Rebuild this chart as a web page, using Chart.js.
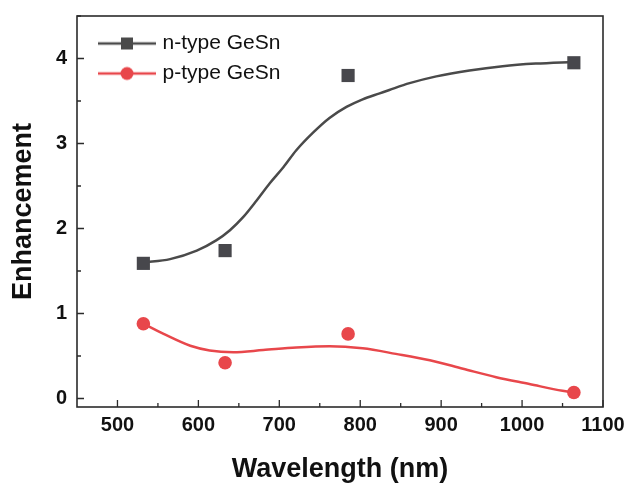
<!DOCTYPE html>
<html>
<head>
<meta charset="utf-8">
<script src="https://cdn.jsdelivr.net/npm/chart.js@4.4.1/dist/chart.umd.min.js"></script>
<style>
  html, body { margin: 0; padding: 0; background: #fff; }
  #wrap { width: 630px; height: 484px; }
</style>
</head>
<body>
<div id="wrap"><canvas id="chart"></canvas></div>
<script>
// measured points
const wavelengths = [532, 633, 785, 1064];
const nTypeValues = [1.59, 1.74, 3.80, 3.95];
const pTypeValues = [0.88, 0.42, 0.76, 0.07];

// fitted curves
const nFitX = [532, 565, 598, 622, 639, 655, 672, 688, 705, 721, 742, 762, 783, 803, 824, 836, 861, 894, 935, 976, 1017, 1064];
const nFitY = [1.60, 1.64, 1.74, 1.86, 1.98, 2.13, 2.33, 2.53, 2.72, 2.92, 3.13, 3.30, 3.43, 3.52, 3.59, 3.63, 3.71, 3.79, 3.86, 3.91, 3.94, 3.96];
const pFitX = [532, 557, 590, 614, 643, 680, 721, 762, 803, 844, 886, 927, 968, 1009, 1050, 1064];
const pFitY = [0.88, 0.76, 0.62, 0.565, 0.545, 0.57, 0.60, 0.615, 0.59, 0.525, 0.45, 0.35, 0.25, 0.17, 0.09, 0.07];

// axis ticks
const xTickValues = [500, 600, 700, 800, 900, 1000, 1100];
const yTickValues = [0, 1, 2, 3, 4];

const nColor = '#47474c';
const pColor = '#e8474b';

const toPoints = (xs, ys) => xs.map((x, i) => ({ x: x, y: ys[i] }));
const midpoints = vals => vals.slice(0, -1).map((v, i) => (v + vals[i + 1]) / 2);

// legend symbol: line with the marker in the middle
function legendSymbol(color, shape) {
    const c = document.createElement('canvas');
    c.width = 60; c.height = 16;
    const g = c.getContext('2d');
    g.strokeStyle = color; g.lineWidth = 2.5;
    g.beginPath(); g.moveTo(1, 8); g.lineTo(59, 8); g.stroke();
    g.fillStyle = color;
    if (shape === 'rect') {
        g.fillRect(24, 2, 12, 12);
    } else {
        g.beginPath(); g.arc(30, 8, 6.5, 0, Math.PI * 2); g.fill();
    }
    return c;
}

// frame + inward ticks, and legend placed inside the plot
const frameTicks = {
    id: 'frameTicks',
    afterLayout(chart) {
        const a = chart.chartArea;
        if (chart.legend) {
            chart.legend.left = a.left + 16;
            chart.legend.top = a.top + 8;
        }
    },
    afterDatasetsDraw(chart) {
        const { ctx, chartArea: a, scales: { x, y } } = chart;
        ctx.save();
        ctx.strokeStyle = '#2b2b2b';
        ctx.lineWidth = 1.6;
        ctx.strokeRect(a.left, a.top, a.right - a.left, a.bottom - a.top);
        ctx.lineWidth = 1.3;
        ctx.beginPath();
        xTickValues.forEach(v => { const px = x.getPixelForValue(v); ctx.moveTo(px, a.bottom); ctx.lineTo(px, a.bottom - 7); });
        midpoints(xTickValues).forEach(v => { const px = x.getPixelForValue(v); ctx.moveTo(px, a.bottom); ctx.lineTo(px, a.bottom - 4); });
        yTickValues.forEach(v => { const py = y.getPixelForValue(v); ctx.moveTo(a.left, py); ctx.lineTo(a.left + 7, py); });
        midpoints(yTickValues).concat([4.5]).forEach(v => { const py = y.getPixelForValue(v); ctx.moveTo(a.left, py); ctx.lineTo(a.left + 4, py); });
        ctx.stroke();
        ctx.restore();
    }
};

const tickFont = { family: 'Liberation Sans, Arial, sans-serif', size: 20, weight: 'bold' };
const titleFont = { family: 'Liberation Sans, Arial, sans-serif', size: 27, weight: 'bold', lineHeight: 1 };

new Chart(document.getElementById('chart'), {
    type: 'scatter',
    data: {
        datasets: [
            { label: 'n-type GeSn', data: toPoints(wavelengths, nTypeValues), pointStyle: 'rect', pointRadius: 9.3, pointHoverRadius: 9.3, backgroundColor: nColor, borderColor: nColor, borderWidth: 0 },
            { label: 'p-type GeSn', data: toPoints(wavelengths, pTypeValues), pointStyle: 'circle', pointRadius: 6.8, pointHoverRadius: 6.8, backgroundColor: pColor, borderColor: pColor, borderWidth: 0 },
            { label: 'n fit', data: toPoints(nFitX, nFitY), showLine: true, pointRadius: 0, borderColor: '#4a4a4a', borderWidth: 2.5, cubicInterpolationMode: 'monotone' },
            { label: 'p fit', data: toPoints(pFitX, pFitY), showLine: true, pointRadius: 0, borderColor: pColor, borderWidth: 2.5, cubicInterpolationMode: 'monotone' }
        ]
    },
    options: {
        responsive: true,
        maintainAspectRatio: false,
        animation: false,
        events: [],
        layout: { padding: { top: 16, right: 27, left: 0, bottom: 0 } },
        plugins: {
            tooltip: { enabled: false },
            legend: {
                position: 'chartArea',
                align: 'start',
                labels: {
                    usePointStyle: true,
                    pointStyleWidth: 50,
                    padding: 9,
                    color: '#111',
                    font: { family: 'Liberation Sans, Arial, sans-serif', size: 21 },
                    generateLabels: chart => [
                        { text: 'n-type GeSn', pointStyle: legendSymbol('#4a4a4a', 'rect'), fontColor: '#111', datasetIndex: 0, lineWidth: 0 },
                        { text: 'p-type GeSn', pointStyle: legendSymbol(pColor, 'circle'), fontColor: '#111', datasetIndex: 1, lineWidth: 0 }
                    ]
                }
            }
        },
        scales: {
            x: {
                type: 'linear',
                min: 450, max: 1100,
                afterBuildTicks: s => { s.ticks = xTickValues.map(v => ({ value: v })); },
                afterFit: s => { s.height = 77; s.paddingLeft = 0; s.paddingRight = 0; },
                grid: { display: false, drawTicks: false },
                border: { display: false },
                ticks: { font: tickFont, color: '#111', padding: 6, maxRotation: 0, callback: v => String(v) },
                title: { display: true, text: 'Wavelength (nm)', font: titleFont, color: '#111', padding: { top: 0, bottom: 1 } }
            },
            y: {
                min: -0.1, max: 4.5,
                afterBuildTicks: s => { s.ticks = yTickValues.map(v => ({ value: v })); },
                afterFit: s => { s.width = 77; s.paddingTop = 0; s.paddingBottom = 0; },
                grid: { display: false, drawTicks: false },
                border: { display: false },
                ticks: { font: tickFont, color: '#111', padding: 10, callback: v => String(v) },
                title: { display: true, text: 'Enhancement', font: titleFont, color: '#111', padding: { top: 10, bottom: 0 } }
            }
        }
    },
    plugins: [frameTicks]
});
</script>
</body>
</html>
